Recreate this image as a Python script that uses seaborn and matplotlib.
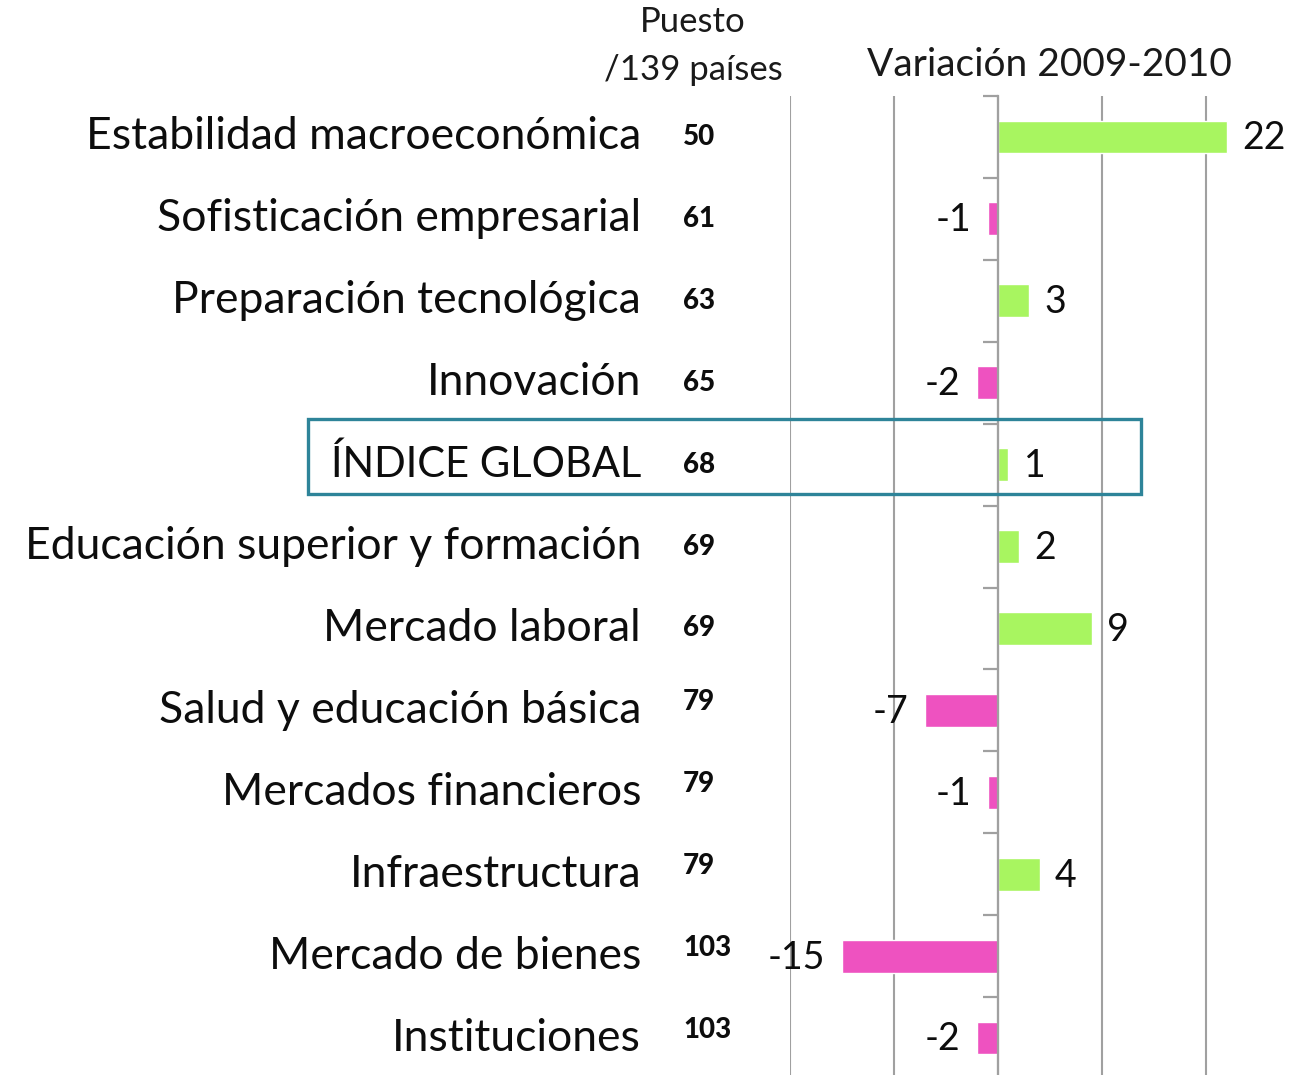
import numpy as np
import pandas as pd
import matplotlib
matplotlib.use("Agg")
import matplotlib.pyplot as plt
import matplotlib.transforms as mtransforms
from matplotlib.patches import Rectangle
import seaborn as sns

categories = [
    "Estabilidad macroeconómica",
    "Sofisticación empresarial",
    "Preparación tecnológica",
    "Innovación",
    "ÍNDICE GLOBAL",
    "Educación superior y formación",
    "Mercado laboral",
    "Salud y educación básica",
    "Mercados financieros",
    "Infraestructura",
    "Mercado de bienes",
    "Instituciones",
]
ranks = [50, 61, 63, 65, 68, 69, 69, 79, 79, 79, 103, 103]
variation = [22, -1, 3, -2, 1, 2, 9, -7, -1, 4, -15, -2]
x_ticks = [-20, -10, 0, 10, 20]

header_rank_1 = "Puesto"
header_rank_2 = "/139 países"
header_var = "Variación 2009-2010"

GREEN = "#A8F560"
PINK = "#EE52C0"
GRID = "#A0A0A0"
TEXT = "#0d0d0d"
BOX = "#2E8499"

sns.set_theme(style="white")
plt.rcParams["font.family"] = ["Lato", "DejaVu Sans"]

W, H = 1297, 1075
fig = plt.figure(figsize=(W / 100, H / 100), dpi=100)

def fx(px):
    return px / W

def fy(py):
    return 1 - py / H

# axes: x from -20 (px 790) to 25 (px 1258); y spans px 96..1079
ax = fig.add_axes([fx(790), fy(1079), fx(1258) - fx(790), fy(96) - fy(1079)])

df = pd.DataFrame({"cat": categories, "var": variation})
df["sign"] = np.where(df["var"] >= 0, "pos", "neg")

sns.barplot(data=df, y="cat", x="var", hue="sign", order=categories,
            palette={"pos": GREEN, "neg": PINK}, dodge=False, width=0.4,
            orient="h", legend=False, ax=ax, saturation=1)

ax.set_xlim(-20, 25)
ax.set_ylim(len(categories) - 0.5, -0.5)
ax.set_xlabel("")
ax.set_ylabel("")

# gridlines
ax.set_xticks(x_ticks)
ax.xaxis.grid(True, color=GRID, linewidth=1.5)
ax.yaxis.grid(False)
ax.tick_params(axis="x", length=0, labelbottom=False)
ax.set_axisbelow(True)

for s in ["top", "right", "bottom"]:
    ax.spines[s].set_visible(False)
ax.spines["left"].set_position(("data", 0))
ax.spines["left"].set_color(GRID)
ax.spines["left"].set_linewidth(1.6)
ax.spines["left"].set_zorder(5)

# y ticks: category boundaries as outward minor ticks on the zero axis
ax.set_yticks(np.arange(len(categories)))
ax.set_yticklabels([])
ax.tick_params(axis="y", which="major", length=0, left=False)
ax.set_yticks(np.arange(-0.5, len(categories), 1.0), minor=True)
ax.tick_params(axis="y", which="minor", length=11, width=1.6, color=GRID,
               direction="out", left=True)

# value labels
for i, v in enumerate(variation):
    if v >= 0:
        ax.annotate(str(v), xy=(v, i), xytext=(11, -1), textcoords="offset points",
                    ha="left", va="center", fontsize=27, color=TEXT)
    else:
        ax.annotate(str(v), xy=(v, i), xytext=(-12, -1), textcoords="offset points",
                    ha="right", va="center", fontsize=27, color=TEXT)

# category labels and ranks
trans = mtransforms.blended_transform_factory(fig.transFigure, ax.transData)
for i, (c, r) in enumerate(zip(categories, ranks)):
    fs = 30 if c.isupper() else 32
    ax.text(fx(641), i, c, transform=trans, ha="right", va="center",
            fontsize=fs, color=TEXT, clip_on=False)
    dy = -0.1 if r >= 79 else 0.0
    ax.text(fx(683), i + dy, str(r), transform=trans, ha="left", va="center",
            fontsize=20, fontweight="black", color=TEXT, clip_on=False)

# headers
fig.text(fx(693), fy(22), header_rank_1, ha="center", va="center",
         fontsize=25, color="#1a1a1a")
fig.text(fx(693), fy(70), header_rank_2, ha="center", va="center",
         fontsize=25, color="#1a1a1a")
fig.text(fx(1049), fy(65), header_var, ha="center", va="center",
         fontsize=28, color="#1a1a1a")

# highlight box
fig.patches.append(Rectangle((fx(308), fy(494)), fx(1141) - fx(308), fy(419) - fy(494),
                             transform=fig.transFigure, fill=False,
                             edgecolor=BOX, linewidth=2.4, zorder=10))

fig.savefig("out.png", dpi=100)
